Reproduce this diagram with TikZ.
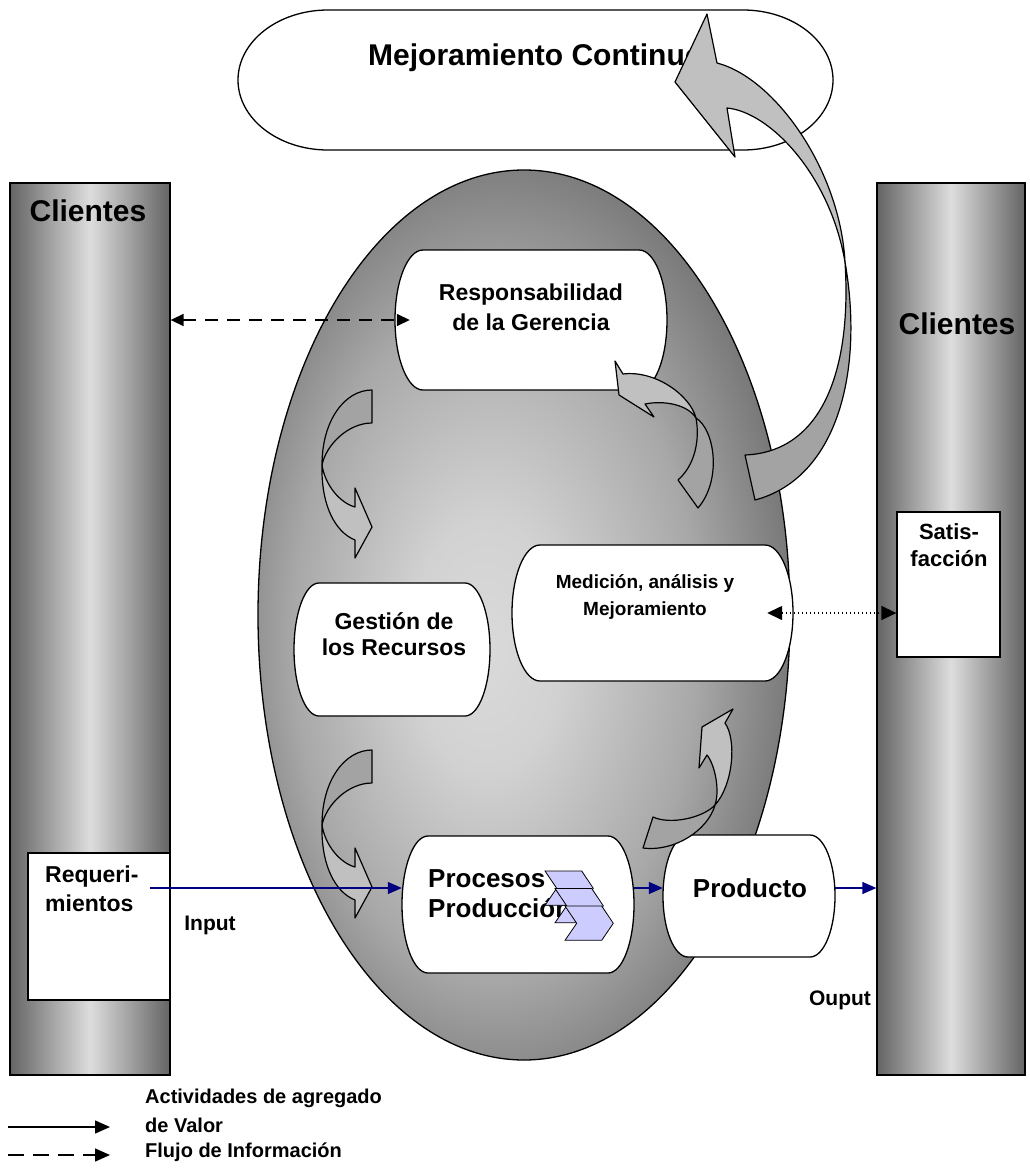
\documentclass[tikz,border=0pt]{standalone}
\usepackage{fontspec}
\setmainfont{Liberation Sans}
\usetikzlibrary{shapes.geometric,arrows.meta}
\definecolor{colDark}{HTML}{646464}
\definecolor{colLight}{HTML}{DDDDDD}
\definecolor{ellIn}{HTML}{DADADA}
\definecolor{ellInB}{HTML}{D2D2D2}
\definecolor{ellMid}{HTML}{A8A8A8}
\definecolor{ellOut}{HTML}{6A6A6A}
\definecolor{ellOutB}{HTML}{5C5C5C}
\definecolor{headGray}{HTML}{C0C0C0}
\definecolor{tailGray}{HTML}{A3A3A3}
\definecolor{chevFill}{HTML}{CCCCFF}
\definecolor{navyA}{HTML}{000080}
\pgfdeclareradialshading{ellshade}{\pgfpoint{-4bp}{-2bp}}{color(0bp)=(ellIn); color(7bp)=(ellInB); color(19bp)=(ellMid); color(30bp)=(ellOut); color(37bp)=(ellOutB); color(60bp)=(ellOutB)}

% [style]{name}{left}{top}{right}{bottom}{bulge}
\newcommand{\pillbox}[7][]{%
  \pgfmathsetmacro\pbL{#3}\pgfmathsetmacro\pbT{#4}%
  \pgfmathsetmacro\pbR{#5}\pgfmathsetmacro\pbB{#6}\pgfmathsetmacro\pbA{#7}%
  \pgfmathsetmacro\pbCY{(\pbT+\pbB)/2}\pgfmathsetmacro\pbRY{(\pbB-\pbT)/2}%
  \pgfmathsetmacro\pbKA{0.5523*\pbA}\pgfmathsetmacro\pbKR{0.5523*\pbRY}%
  \pgfmathsetmacro\pbLX{\pbL+\pbA}\pgfmathsetmacro\pbRX{\pbR-\pbA}%
  \pgfmathsetmacro\pbW{\pbR-\pbL}\pgfmathsetmacro\pbH{\pbB-\pbT}%
  \pgfmathsetmacro\pbCX{(\pbL+\pbR)/2}%
  \draw[#1] (\pbLX,\pbT) -- (\pbRX,\pbT)
    .. controls (\pbRX+\pbKA,\pbT) and (\pbR,\pbCY-\pbKR) .. (\pbR,\pbCY)
    .. controls (\pbR,\pbCY+\pbKR) and (\pbRX+\pbKA,\pbB) .. (\pbRX,\pbB)
    -- (\pbLX,\pbB)
    .. controls (\pbLX-\pbKA,\pbB) and (\pbL,\pbCY+\pbKR) .. (\pbL,\pbCY)
    .. controls (\pbL,\pbCY-\pbKR) and (\pbLX-\pbKA,\pbT) .. (\pbLX,\pbT) -- cycle;
  \node[inner sep=0, minimum width=\pbW pt, minimum height=\pbH pt] (#2) at (\pbCX,\pbCY) {};
}

\begin{document}
\begin{tikzpicture}[x=1pt,y=-1pt,
  shapeline/.style={draw=black, line width=1.3pt},
  column/.style={shapeline, left color=colDark, right color=colDark, middle color=colLight, inner sep=0},
  whitebox/.style={shapeline, fill=white},
  headband/.style={draw=black, line width=1.2pt, fill=headGray, line join=round},
  tailband/.style={draw=black, line width=1.2pt, fill=tailGray, line join=round},
  chevron/.style={draw=black, line width=0.8pt, fill=chevFill},
  flow/.style={draw=navyA, line width=1.3pt, -{Triangle[length=14pt,width=12pt]}},
  info/.style={draw=black, line width=1.5pt, dash pattern=on 13pt off 9pt, {Triangle[length=13pt,width=12pt]}-{Triangle[length=13pt,width=12pt]}},
  dots/.style={draw=black, line width=1.5pt, dash pattern=on 1.5pt off 2.5pt, {Triangle[length=15pt,width=14pt]}-{Triangle[length=15pt,width=14pt]}},
  legsolid/.style={draw=black, line width=1.5pt, -{Triangle[length=15pt,width=13pt]}},
  legdash/.style={draw=black, line width=1.5pt, dash pattern=on 16pt off 9pt, -{Triangle[length=15pt,width=13pt]}},
  fBig/.style={font=\fontsize{30}{34}\selectfont\bfseries, inner sep=0},
  fBox/.style={font=\fontsize{23}{30}\selectfont\bfseries, inner sep=0},
  fMed/.style={font=\fontsize{19}{27}\selectfont\bfseries, inner sep=0},
  fProc/.style={font=\fontsize{26}{30}\selectfont\bfseries, inner sep=0},
  fSmall/.style={font=\fontsize{20}{27}\selectfont\bfseries, inner sep=0},
  fIO/.style={font=\fontsize{21}{27}\selectfont\bfseries, inner sep=0}
]
\useasboundingbox (0,0) rectangle (1029,1173);
\fill[white] (0,0) rectangle (1029,1173);

% top oval
\pillbox[shapeline, fill=white]{mc}{238}{10}{833}{150}{90}
\node[fBig, anchor=base west] (mcText) at (368,65) {Mejoramiento Continuo};

% client columns
\node[column, minimum width=160pt, minimum height=892pt] (cliL) at (90,629) {};
\node[column, minimum width=148pt, minimum height=892pt] (cliR) at (951,629) {};
\node[fBig, anchor=base] (cliLText) at (88,221) {Clientes};
\node[fBig, anchor=base] (cliRText) at (957,334) {Clientes};

% white boxes in columns
\node[whitebox, inner sep=0, minimum width=142pt, minimum height=147pt] (req) at (99,926.5) {};
\node[fBox, align=left, anchor=north west, font=\fontsize{23}{29}\selectfont\bfseries] (reqText) at (45,866) {Requeri-\\mientos};
\node[whitebox, inner sep=0, minimum width=103pt, minimum height=145pt] (sat) at (948.5,584.5) {};
\node[fBox, align=center, anchor=north, font=\fontsize{22}{27}\selectfont\bfseries] (satText) at (949,523) {Satis-\\facción};

% central ellipse
\node[ellipse, shapeline, shade, shading=ellshade, minimum width=532pt, minimum height=890pt, inner sep=0] (ell) at (524,615) {};

% process boxes
\pillbox[shapeline, fill=white]{ger}{395}{250}{667}{390}{28}
\node[fBox, align=center] (gerText) at (531,307) {Responsabilidad\\de la Gerencia};
\pillbox[shapeline, fill=white]{ges}{294}{583}{490}{716}{25}
\node[fBox, align=center, font=\fontsize{23}{26}\selectfont\bfseries] (gesText) at (394,634) {Gestión de\\los Recursos};
\pillbox[shapeline, fill=white]{med}{512}{545}{793}{681}{28}
\node[fMed, align=center] (medText) at (645,597) {Medición, análisis y\\Mejoramiento};
\pillbox[shapeline, fill=white]{proc}{402}{836}{634}{973}{26}
\node[fProc, align=left, anchor=west] (procText) at (428,894) {Procesos\\Producción};
\pillbox[shapeline, fill=white]{prod}{663}{835}{835}{957}{25}
\node[fProc] (prodText) at (750,888) {Producto};

% chevrons
\foreach \k in {0,1,2}{
  \draw[chevron, shift={(10*\k,17.5*\k)}] (545,871) -- (581.7,871) -- (593.3,888.3) -- (581.7,905.3) -- (545,905.3) -- (556.7,888.3) -- cycle;
}

% curved arrows: left upper and left lower
\foreach \dy in {0,360}{
  \begin{scope}[shift={(0,\dy)}]
    \filldraw[tailband] (372,390) .. controls (345,390) and (322,420) .. (322,465)
      .. controls (326,445) and (348,423) .. (372,423) -- cycle;
    \filldraw[headband] (322,465) .. controls (325,485) and (340,503) .. (355,507)
      -- (355,488) -- (372,527) -- (355,558) -- (355,540)
      .. controls (335,532) and (321,505) .. (322,465) -- cycle;
  \end{scope}
}
% right upper
\filldraw[headband] (623,374) .. controls (655,370) and (690,395) .. (696,418)
  .. controls (688,405) and (665,400) .. (645,404) -- (654,417) -- (619,395) -- (615,361) -- cycle;
\filldraw[tailband] (696,418) .. controls (700,440) and (695,465) .. (678,480)
  -- (698,508) .. controls (722,480) and (715,430) .. (696,418) -- cycle;
% right lower
\filldraw[headband] (725,723) .. controls (737,740) and (733,785) .. (715,805)
  .. controls (720,790) and (715,765) .. (707,755) -- (699,768) -- (702,727) -- (733,709) -- cycle;
\filldraw[tailband] (715,805) .. controls (703,818) and (670,825) .. (653,817)
  -- (643,848) .. controls (675,852) and (708,830) .. (715,805) -- cycle;
% big arrow to Mejoramiento Continuo
\filldraw[headband] (717,63) .. controls (775,78) and (840,170) .. (845,262)
  .. controls (830,175) and (770,112) .. (727,108) -- (735,157) -- (675,82) -- (707,14) -- cycle;
\filldraw[tailband] (845,262) .. controls (852,370) and (822,452) .. (745,455)
  -- (755,500) .. controls (838,478) and (864,370) .. (845,262) -- cycle;

% connectors
\coordinate (inStart) at (150,888);
\draw[flow] (inStart) -- (inStart -| proc.west);
\draw[flow] (inStart -| proc.east) -- (inStart -| prod.west);
\draw[flow] (inStart -| prod.east) -- (inStart -| cliR.west);
\draw[info] (cliL.east |- ger.center) -- ([xshift=15pt]ger.west);
\draw[dots] ([xshift=-26pt]med.east) -- (sat.west |- med.east);

\node[fIO] (inLbl) at (210,925) {Input};
\node[fIO] (outLbl) at (840,1000) {Ouput};

% legend
\coordinate (lgAs) at (8,1127);
\coordinate (lgAe) at (110,1127);
\coordinate (lgBs) at (8,1155);
\coordinate (lgBe) at (110,1155);
\draw[legsolid] (lgAs) -- (lgAe);
\draw[legdash] (lgBs) -- (lgBe);
\node[fSmall, anchor=west] (lgT1) at (145,1098) {Actividades de agregado};
\node[fSmall, anchor=west] (lgT2) at (145,1125) {de Valor};
\node[fSmall, anchor=west] (lgT3) at (145,1152) {Flujo de Información};
\end{tikzpicture}
\end{document}
